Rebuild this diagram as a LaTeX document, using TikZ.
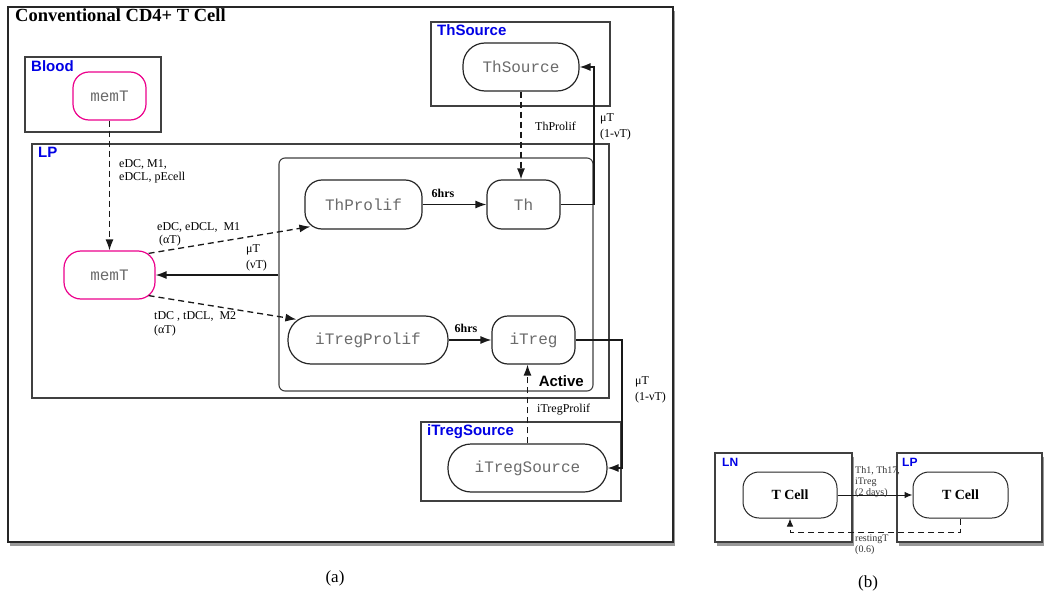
\documentclass[tikz,border=0pt]{standalone}
\usepackage{fontspec}
\setmainfont{Liberation Serif}
\newfontfamily\sansb{Liberation Sans}
\newfontfamily\mono{Liberation Mono}
\usetikzlibrary{arrows.meta,shadows,calc}
\begin{document}
\begin{tikzpicture}[x=1pt,y=-1pt,
  cell/.style={draw=black!85, line width=1.2pt, rounded corners=17pt, font=\mono\fontsize{16}{18}\selectfont, text=black!58, inner sep=0pt, minimum height=48pt},
  mem/.style={cell, draw=magenta},
  tcell/.style={draw=black!85, line width=1pt, rounded corners=16pt, font=\bfseries\fontsize{14}{16}\selectfont, inner sep=0pt, minimum height=46pt},
  comp/.style={draw=black!75, line width=1.1pt, inner sep=0pt},
  shadowed/.style={fill=white, drop shadow={shadow xshift=1.5pt, shadow yshift=-4pt, opacity=.4, fill=black}},
  complabel/.style={font=\sansb\bfseries\fontsize{15}{17}\selectfont, text=blue!90!black, anchor=west, inner sep=0pt},
  complabelsm/.style={font=\sansb\bfseries\fontsize{12}{14}\selectfont, text=blue!90!black, anchor=west, inner sep=0pt},
  lbl/.style={font=\fontsize{12}{13.5}\selectfont, align=left, anchor=west, inner sep=0pt},
  lblsm/.style={font=\fontsize{10}{11}\selectfont, align=left, anchor=west, inner sep=0pt, text=black!80},
  hrs/.style={font=\bfseries\fontsize{12}{13}\selectfont, inner sep=0pt},
  arr/.style={-{Latex[length=11pt,width=8pt]}, line width=1.3pt, draw=black!90},
  darr/.style={arr, dash pattern=on 6pt off 4pt},
  capt/.style={font=\fontsize{17}{19}\selectfont, inner sep=0pt}
]
\useasboundingbox (0,0) rectangle (1050,594);

% ---------- panel (a) ----------
\node[comp, shadowed, line width=2pt, draw=black!85, minimum width=665pt, minimum height=535pt] (outer) at (340.5,274.5) {};
\node[font=\bfseries\fontsize{18.5}{21}\selectfont, anchor=base west, inner sep=0pt] (title) at (15,22) {Conventional CD4+ T Cell};

% compartments
\node[comp, minimum width=136pt, minimum height=75pt] (blood) at (93,94.5) {};
\node[complabel] (bloodlbl) at (31,66) {Blood};
\node[comp, minimum width=577pt, minimum height=254pt] (lp) at (320.5,271) {};
\node[complabel] (lplbl) at (38,152) {LP};
\node[comp, minimum width=179pt, minimum height=84pt] (thsrcbox) at (520.5,64) {};
\node[complabel] (thsrclbl) at (437,30) {ThSource};
\node[comp, minimum width=200pt, minimum height=79pt] (itsrcbox) at (521,461.5) {};
\node[complabel] (itsrclbl) at (427,432) {iTregSource};
\node[comp, rounded corners=6pt, minimum width=314pt, minimum height=233pt] (active) at (436,274.5) {};
\node[complabel, text=black, anchor=east] (activelbl) at (584,381) {Active};

% cells
\node[mem, rounded corners=16pt, minimum width=73pt] (memTb) at (109.5,96) {memT};
\node[mem, minimum width=91pt] (memT) at (109.5,275) {memT};
\node[cell, minimum width=117pt, minimum height=49pt] (thprolif) at (363.5,204.5) {ThProlif};
\node[cell, rounded corners=15pt, minimum width=73pt, minimum height=49pt] (th) at (523.5,204.5) {Th};
\node[cell, rounded corners=23pt, minimum width=160pt] (itprolif) at (368,340) {iTregProlif};
\node[cell, rounded corners=16pt, minimum width=83pt] (itreg) at (533.5,340) {iTreg};
\node[cell, rounded corners=22pt, minimum width=116pt] (thsrc) at (521,67) {ThSource};
\node[cell, rounded corners=23pt, minimum width=159pt] (itsrc) at (527.5,468) {iTregSource};

% helper coordinates
\coordinate (c1) at (594,204.5);
\coordinate (c2) at (622,340);

% connectors
\draw[darr] (memTb.south) -- (memT.north);
\draw[darr] ($(memT.north east)+(-7,3)$) -- ($(thprolif.south west)+(6,-3)$);
\draw[darr] ($(memT.south east)+(-7,-4)$) -- ($(itprolif.north west)+(9,4)$);
\draw[arr] (active.west |- memT.east) -- (memT.east);
\draw[arr] (thprolif.east) -- (th.west);
\draw[arr] (itprolif.east) -- (itreg.west);
\draw[darr] (thsrc.south) -- (thsrc.south |- th.north);
\draw[arr] (th.east) -- (c1) |- (thsrc.east);
\draw[arr] (itreg.east) -- (c2) |- (itsrc.east);
\draw[darr] (itsrc.north) -- (itsrc.north |- itreg.south);

% labels
\node[lbl] (l1) at (119,171.5) {eDC, M1,\\eDCL, pEcell};
\node[lbl] (l2) at (157,234.5) {eDC, eDCL,\ \ M1\\\,(αT)};
\node[lbl, font=\fontsize{12}{15.5}\selectfont] (l3) at (246,258) {μT\\(νT)};
\node[lbl] (l4) at (154,324) {tDC , tDCL,\ \ M2\\(αT)};
\node[lbl] (l5) at (535,126) {ThProlif};
\node[lbl, font=\fontsize{12}{16}\selectfont] (l6) at (600,126.5) {μT\\(1-νT)};
\node[lbl] (l7) at (537,410) {iTregProlif};
\node[lbl, font=\fontsize{12}{16}\selectfont] (l8) at (635,389.5) {μT\\(1-νT)};
\node[hrs] (h1) at (443,193) {6hrs};
\node[hrs] (h2) at (466,328) {6hrs};

\node[capt] (capa) at (335,578) {(a)};

% ---------- panel (b) ----------
\node[comp, shadowed, minimum width=137pt, minimum height=89pt] (ln) at (783.5,497.5) {};
\node[comp, shadowed, minimum width=145pt, minimum height=89pt] (lpb) at (969.5,497.5) {};
\node[complabelsm] (lnlbl) at (722,462) {LN};
\node[complabelsm] (lpblbl) at (902,462) {LP};
\node[tcell, minimum width=94pt] (tcln) at (790,495) {T Cell};
\node[tcell, minimum width=95pt] (tclp) at (960.5,495) {T Cell};
\coordinate (rb) at (0,532);
\draw[arr, line width=1pt, -{Latex[length=8pt,width=6.5pt]}] (tcln.east) -- (tclp.west);
\draw[darr, line width=1pt, -{Latex[length=8pt,width=6.5pt]}] (tclp.south) -- (tclp.south |- rb) -- (tcln.south |- rb) -- (tcln.south);
\node[lblsm] (lb1) at (855,482) {Th1, Th17,\\iTreg\\(2 days)};
\node[lblsm] (lb2) at (855,545) {restingT\\(0.6)};
\node[capt] (capb) at (868,583) {(b)};
\end{tikzpicture}
\end{document}
